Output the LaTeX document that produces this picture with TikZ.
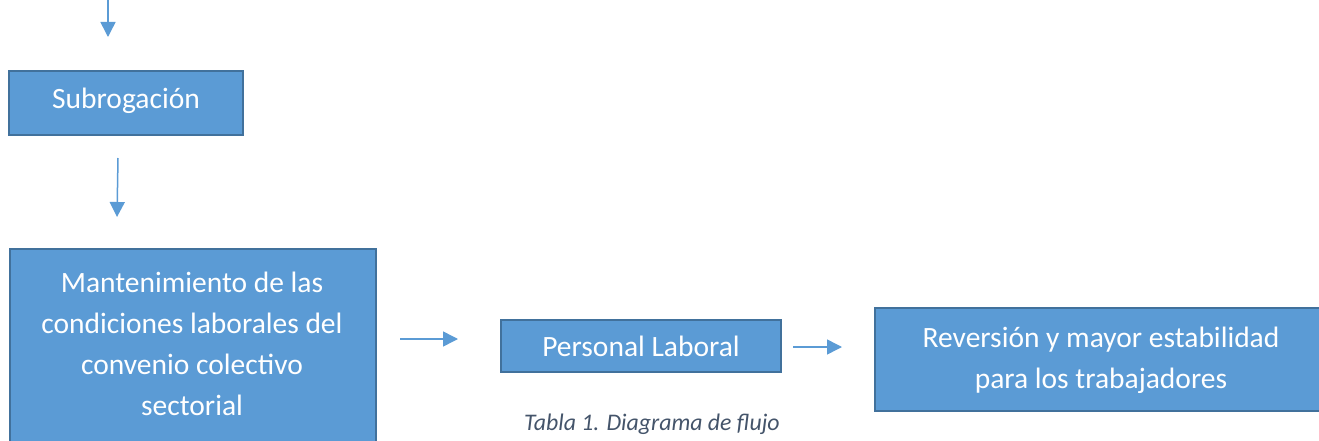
\documentclass[tikz,border=0pt]{standalone}
\usepackage{fontspec}
\setmainfont{Carlito}
\usetikzlibrary{arrows.meta}
\definecolor{boxfill}{HTML}{5B9BD5}
\definecolor{boxline}{HTML}{41719C}
\definecolor{capcol}{HTML}{44546A}
\tikzset{
  box/.style={draw=boxline, fill=boxfill, line width=2pt, inner sep=0pt},
  txt/.style={text=white, align=center, inner sep=0pt, font=\fontsize{29.5}{41}\selectfont},
  arr/.style={draw=boxfill, line width=1.5pt, -{Triangle[length=15pt,width=15pt]}},
  captionstyle/.style={text=capcol, inner sep=0pt, font=\fontsize{23.8}{28}\selectfont\itshape}
}
\begin{document}
\begin{tikzpicture}[x=1pt,y=-1pt]
\useasboundingbox (0,0) rectangle (1319,441);
% boxes
\node[box, minimum width=234pt, minimum height=64pt] (sub) at (126,103) {};
\node[txt] (subtext) at (126,101) {Subrogación};
\node[box, minimum width=366pt, minimum height=240pt, anchor=north west] (mant) at (9,248) {};
\node[txt] (manttext) at (192,344) {Mantenimiento de las\\condiciones laborales del\\convenio colectivo\\sectorial};
\node[box, minimum width=280pt, minimum height=52pt] (pl) at (641,346) {};
\node[txt] (pltext) at (641,346) {Personal Laboral};
\node[box, minimum width=470pt, minimum height=103pt, anchor=north west] (rev) at (874,307) {};
\node[txt] (revtext) at (1101,360) {Reversión y mayor estabilidad\\para los trabajadores};
\node[captionstyle] (caption) at (652,424) {Tabla 1. Diagrama de flujo};
% arrow ends
\coordinate (a1s) at (108,-5);
\coordinate (a1e) at (108,37);
\coordinate (a2s) at (118,158);
\coordinate (a2e) at (117,217);
\coordinate (a3s) at (400,339);
\coordinate (a3e) at (458,339);
\coordinate (a4s) at (793,347);
\coordinate (a4e) at (842,347);
\draw[arr] (a1s) -- (a1e);
\draw[arr] (a2s) -- (a2e);
\draw[arr] (a3s) -- (a3e);
\draw[arr] (a4s) -- (a4e);
\end{tikzpicture}
\end{document}
